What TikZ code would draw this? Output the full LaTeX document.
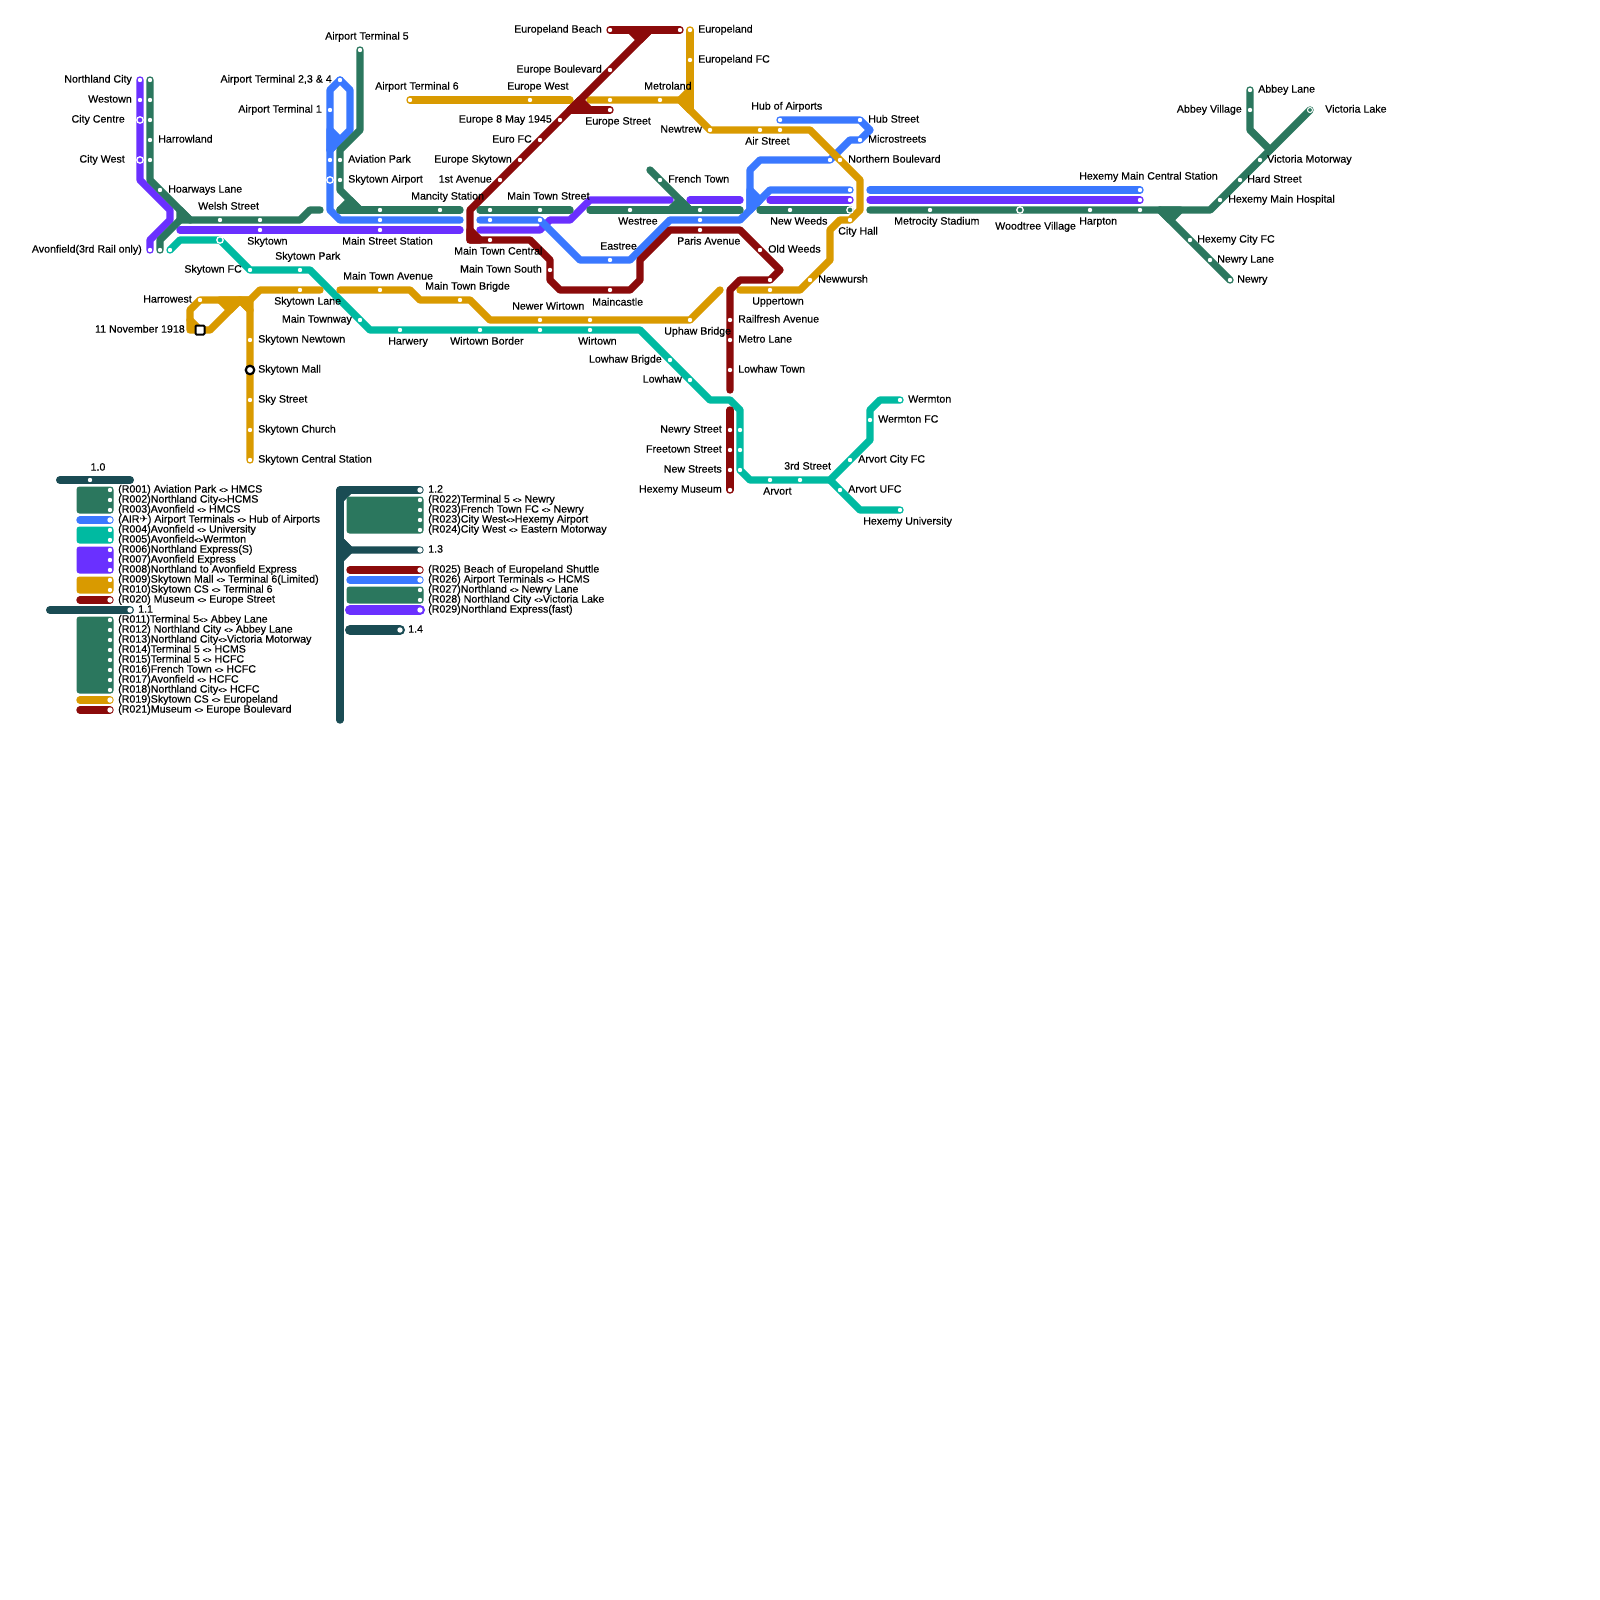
\documentclass[tikz,border=0pt]{standalone}
\usepackage{fontspec}
\setmainfont{Liberation Sans}[RawFeature={embolden=0.35}]
\newfontfamily\symfont{DejaVu Sans}
\usetikzlibrary{backgrounds}
\definecolor{lgreen}{HTML}{2B775E}
\definecolor{lblue}{HTML}{3A78FF}
\definecolor{lpurple}{HTML}{6A30FF}
\definecolor{lgold}{HTML}{D99A00}
\definecolor{lred}{HTML}{8B0A0A}
\definecolor{lteal}{HTML}{00BAA1}
\definecolor{ldark}{HTML}{1A4C54}
\newcommand{\ang}{{\fontsize{7.5}{7.5}\selectfont<>}}
\tikzset{
  route/.style={line width=7.4pt, line cap=round, line join=round},
  rgreen/.style={route, draw=lgreen},
  rblue/.style={route, draw=lblue},
  rpurple/.style={route, draw=lpurple},
  rgold/.style={route, draw=lgold},
  rred/.style={route, draw=lred},
  rteal/.style={route, draw=lteal},
  rdark/.style={route, draw=ldark},
  blockfill/.style={rounded corners=3pt},
  stn/.style={circle, fill=white, inner sep=0pt, minimum size=4.4pt},
  stnend/.style={circle, fill=white, inner sep=0pt, minimum size=5.4pt},
  stnring/.style={circle, draw=white, line width=1.3pt, inner sep=0pt, minimum size=6.4pt},
  stnmall/.style={circle, draw=black, fill=white, line width=2.2pt, inner sep=0pt, minimum size=8.5pt},
  stnsq/.style={rectangle, rounded corners=1pt, draw=black, fill=white, line width=2pt, inner sep=0pt, minimum size=9pt},
  txt/.style={inner sep=0pt, text height=7.2pt, text depth=0pt, font=\fontsize{10.65}{11}\selectfont},
  le/.style={txt, anchor=east},
  lw/.style={txt, anchor=west},
  lgd/.style={txt, anchor=west}
}
\begin{document}
\begin{tikzpicture}[x=1pt,y=-1pt]
  \useasboundingbox (0,0) rectangle (1600,1600);

  % free line ends
  \coordinate (pa) at (180,230);
  \coordinate (pb) at (460,230);
  \coordinate (pc) at (480,230);
  \coordinate (pd) at (670,200);
  \coordinate (pe) at (690,200);
  \coordinate (pf) at (740,200);
  \coordinate (pg) at (770,200);
  \coordinate (ph) at (870,200);
  \coordinate (ba) at (460,220);
  \coordinate (bb) at (480,220);
  \coordinate (bc) at (870,190);
  \coordinate (ga) at (320,210);
  \coordinate (gb) at (340,210);
  \coordinate (gc) at (460,210);
  \coordinate (gd) at (480,210);
  \coordinate (ge) at (570,210);
  \coordinate (gf) at (590,210);
  \coordinate (gg) at (740,210);
  \coordinate (gh) at (650,170);
  \coordinate (gi) at (690,210);
  \coordinate (gj) at (760,210);
  \coordinate (gk) at (870,210);
  \coordinate (ya) at (320,290);
  \coordinate (yb) at (340,290);
  \coordinate (yc) at (720,290);
  \coordinate (yd) at (570,100);
  \coordinate (ye) at (590,100);
  \coordinate (yf) at (740,290);
  \coordinate (ra) at (730,390);
  \coordinate (rb) at (730,410);

  % purple and green, west
  \node[stn] (northlandp) at (140,80) {};
  \node[le] (tnorthland) at (132,79) {Northland City};
  \node[stn] (westownp) at (140,100) {};
  \node[le] (twestown) at (132,99) {Westown};
  \node[stnring, fill=lpurple] (citycentre) at (140,120) {};
  \node[le] (tcitycentre) at (125,119) {City Centre};
  \node[stnring, fill=lpurple] (citywest) at (140,160) {};
  \node[le] (tcitywest) at (125,159) {City West};
  \node[stn] (avonp) at (150,250) {};
  \node[le] (tavon) at (142,249) {Avonfield(3rd Rail only)};
  \node[stn] (northlandg) at (150,80) {};
  \node[stn] (westowng) at (150,100) {};
  \node[stn] (centreg) at (150,120) {};
  \node[stn] (harrowland) at (150,140) {};
  \node[lw] (tharrowland) at (158,139) {Harrowland};
  \node[stn] (westg) at (150,160) {};
  \node[stn] (hoarways) at (160,190) {};
  \node[lw] (thoarways) at (168,189) {Hoarways Lane};
  \node[stn] (welsh) at (220,220) {};
  \node[lw] (twelsh) at (198,206) {Welsh Street};
  \node[stn] (skytowng) at (260,220) {};
  \node[stn] (skytownp) at (260,230) {};
  \node[lw] (tskytown) at (247,241) {Skytown};
  \node[stn] (avong) at (160,250) {};
  \node[stn] (avont) at (170,250) {};

  % airport
  \node[stn] (term234) at (340,80) {};
  \node[le] (tterm234) at (332,79) {Airport Terminal 2,3 \& 4};
  \node[stn] (term1) at (330,110) {};
  \node[le] (tterm1) at (322,109) {Airport Terminal 1};
  \node[stn] (term5) at (360,50) {};
  \node[lw] (tterm5) at (325,36) {Airport Terminal 5};
  \node[stn] (aviationb) at (330,160) {};
  \node[stn] (aviationg) at (340,160) {};
  \node[lw] (taviation) at (348,159) {Aviation Park};
  \node[stnring, fill=lblue] (airportb) at (330,180) {};
  \node[stn] (airportg) at (340,180) {};
  \node[lw] (tairport) at (348,179) {Skytown Airport};
  \node[stn] (mainstg) at (380,210) {};
  \node[stn] (mainstb) at (380,220) {};
  \node[stn] (mainstp) at (380,230) {};
  \node[lw] (tmainst) at (342,241) {Main Street Station};
  \node[stn] (mancity) at (440,210) {};
  \node[lw] (tmancity) at (411,196) {Mancity Station};

  % gold, skytown
  \node[stn] (harrowest) at (200,300) {};
  \node[le] (tharrowest) at (192,299) {Harrowest};
  \node[stnsq] (november) at (200,330) {};
  \node[le] (tnovember) at (185,329) {11 November 1918};
  \node[stn] (skylane) at (300,290) {};
  \node[lw] (tskylane) at (274,301) {Skytown Lane};
  \node[stn] (newtown) at (250,340) {};
  \node[lw] (tnewtown) at (258,339) {Skytown Newtown};
  \node[stnmall] (mall) at (250,370) {};
  \node[lw] (tmall) at (258,369) {Skytown Mall};
  \node[stn] (skyst) at (250,400) {};
  \node[lw] (tskyst) at (258,399) {Sky Street};
  \node[stn] (church) at (250,430) {};
  \node[lw] (tchurch) at (258,429) {Skytown Church};
  \node[stn] (central) at (250,460) {};
  \node[lw] (tcentral) at (258,459) {Skytown Central Station};
  \node[stn] (mtavenue) at (380,290) {};
  \node[lw] (tmtavenue) at (343,276) {Main Town Avenue};
  \node[stn] (mtbrigde) at (460,300) {};
  \node[lw] (tmtbrigde) at (425,286) {Main Town Brigde};
  \node[stn] (newerw) at (540,320) {};
  \node[lw] (tnewerw) at (512,306) {Newer Wirtown};
  \node[stn] (wirtowny) at (590,320) {};
  \node[stn] (uphaw) at (690,320) {};
  \node[lw] (tuphaw) at (664,331) {Uphaw Bridge};

  % gold, north
  \node[stn] (term6) at (410,100) {};
  \node[lw] (tterm6) at (375,86) {Airport Terminal 6};
  \node[stn] (eurwest) at (530,100) {};
  \node[lw] (teurwest) at (507,86) {Europe West};
  \node[stn] (eurgold) at (610,100) {};
  \node[stn] (metroland) at (660,100) {};
  \node[lw] (tmetroland) at (644,86) {Metroland};
  \node[stn] (europeland) at (690,30) {};
  \node[lw] (teuropeland) at (698,29) {Europeland};
  \node[stn] (eurofc) at (690,60) {};
  \node[lw] (teurofc) at (698,59) {Europeland FC};
  \node[stn] (newtrew) at (710,130) {};
  \node[le] (tnewtrew) at (702,129) {Newtrew};
  \node[stn] (airsta) at (760,130) {};
  \node[lw] (tairst) at (745,141) {Air Street};
  \node[stn] (airstb) at (780,130) {};
  \node[stn] (northerny) at (840,160) {};
  \node[lw] (tnorthern) at (848,159) {Northern Boulevard};
  \node[stn] (cityhall) at (850,220) {};
  \node[lw] (tcityhall) at (838,231) {City Hall};
  \node[stn] (newwursh) at (810,280) {};
  \node[lw] (tnewwursh) at (818,279) {Newwursh};
  \node[stn] (uppery) at (770,290) {};
  \node[lw] (tuppertown) at (752,301) {Uppertown};

  % red
  \node[stn] (beach) at (610,30) {};
  \node[le] (tbeach) at (602,29) {Europeland Beach};
  \node[stn] (beachb) at (680,30) {};
  \node[stn] (eurblvd) at (610,70) {};
  \node[le] (teurblvd) at (602,69) {Europe Boulevard};
  \node[stn] (eurstreet) at (610,110) {};
  \node[lw] (teurstreet) at (585,121) {Europe Street};
  \node[stn] (may1945) at (560,120) {};
  \node[le] (tmay1945) at (552,119) {Europe 8 May 1945};
  \node[stn] (eurofcr) at (540,140) {};
  \node[le] (teurofcr) at (532,139) {Euro FC};
  \node[stn] (eurskytown) at (520,160) {};
  \node[le] (teurskytown) at (512,159) {Europe Skytown};
  \node[stn] (firstave) at (500,180) {};
  \node[le] (tfirstave) at (492,179) {1st Avenue};
  \node[stn] (mtcentral) at (490,240) {};
  \node[lw] (tmtcentral) at (454,251) {Main Town Central};
  \node[stn] (mtsouth) at (550,270) {};
  \node[le] (tmtsouth) at (542,269) {Main Town South};
  \node[stn] (maincastle) at (610,290) {};
  \node[lw] (tmaincastle) at (592,302) {Maincastle};
  \node[stn] (paris) at (700,230) {};
  \node[lw] (tparis) at (677,241) {Paris Avenue};
  \node[stn] (oldweeds) at (760,250) {};
  \node[lw] (toldweeds) at (768,249) {Old Weeds};
  \node[stn] (upperr) at (770,280) {};
  \node[stn] (railfresh) at (730,320) {};
  \node[lw] (trailfresh) at (738,319) {Railfresh Avenue};
  \node[stn] (metrolane) at (730,340) {};
  \node[lw] (tmetrolane) at (738,339) {Metro Lane};
  \node[stn] (lowhawtown) at (730,370) {};
  \node[lw] (tlowhawtown) at (738,369) {Lowhaw Town};
  \node[stn] (newryst) at (730,430) {};
  \node[le] (tnewryst) at (722,429) {Newry Street};
  \node[stn] (freetown) at (730,450) {};
  \node[le] (tfreetown) at (722,449) {Freetown Street};
  \node[stn] (newstreets) at (730,470) {};
  \node[le] (tnewstreets) at (722,469) {New Streets};
  \node[stn] (museum) at (730,490) {};
  \node[le] (tmuseum) at (722,489) {Hexemy Museum};

  % centre, blue and green
  \node[stn] (mtstreetg) at (490,210) {};
  \node[stn] (mtstreetb) at (490,220) {};
  \node[stn] (mtstreeth) at (540,210) {};
  \node[stn] (mtstreetc) at (540,220) {};
  \node[lw] (tmtstreet) at (507,196) {Main Town Street};
  \node[stn] (westree) at (630,210) {};
  \node[lw] (twestree) at (618,221) {Westree};
  \node[stn] (eastree) at (610,260) {};
  \node[lw] (teastree) at (600,246) {Eastree};
  \node[stn] (french) at (660,180) {};
  \node[lw] (tfrench) at (668,179) {French Town};
  \node[stn] (parisg) at (700,210) {};
  \node[stn] (parisb) at (700,220) {};
  \node[stn] (hubair) at (780,120) {};
  \node[lw] (thubair) at (751,106) {Hub of Airports};
  \node[stn] (hubst) at (860,120) {};
  \node[lw] (thubst) at (868,119) {Hub Street};
  \node[stn] (micro) at (860,140) {};
  \node[lw] (tmicro) at (868,139) {Microstreets};
  \node[stn] (northernb) at (830,160) {};
  \node[stn] (newweeds) at (790,210) {};
  \node[lw] (tnewweeds) at (770,221) {New Weeds};
  \node[stn] (crossb) at (850,190) {};
  \node[stn] (crossp) at (850,200) {};
  \node[stnring, fill=lgreen] (crossg) at (850,210) {};

  % east
  \node[stn] (metrocity) at (930,210) {};
  \node[lw] (tmetrocity) at (894,221) {Metrocity Stadium};
  \node[stnring, fill=lgreen] (woodtree) at (1020,210) {};
  \node[lw] (twoodtree) at (995,226) {Woodtree Village};
  \node[stn] (harpton) at (1090,210) {};
  \node[lw] (tharpton) at (1079,221) {Harpton};
  \node[stn] (hexg) at (1140,210) {};
  \node[stn] (hexb) at (1140,190) {};
  \node[stn] (hexp) at (1140,200) {};
  \node[lw] (thex) at (1079,176) {Hexemy Main Central Station};
  \node[stn] (hospital) at (1220,200) {};
  \node[lw] (thospital) at (1228,199) {Hexemy Main Hospital};
  \node[stn] (hardst) at (1240,180) {};
  \node[lw] (thardst) at (1247,179) {Hard Street};
  \node[stn] (motorway) at (1260,160) {};
  \node[lw] (tmotorway) at (1267,159) {Victoria Motorway};
  \node[stnring, fill=lgreen, minimum size=5pt, line width=1pt] (vlake) at (1310,110) {};
  \node[lw] (tvlake) at (1325,109) {Victoria Lake};
  \node[stn] (abbeylane) at (1250,90) {};
  \node[lw] (tabbeylane) at (1258,89) {Abbey Lane};
  \node[stn] (abbeyvil) at (1250,110) {};
  \node[le] (tabbeyvil) at (1242,109) {Abbey Village};
  \node[stn] (hexfc) at (1190,240) {};
  \node[lw] (thexfc) at (1197,239) {Hexemy City FC};
  \node[stn] (newrylane) at (1210,260) {};
  \node[lw] (tnewrylane) at (1217,259) {Newry Lane};
  \node[stn] (newry) at (1230,280) {};
  \node[lw] (tnewry) at (1237,279) {Newry};

  % teal
  \node[stnring, fill=lteal] (skyfc1) at (220,240) {};
  \node[stn] (skyfc) at (250,270) {};
  \node[le] (tskyfc) at (242,269) {Skytown FC};
  \node[stn] (skypark) at (300,270) {};
  \node[lw] (tskypark) at (275,256) {Skytown Park};
  \node[stn] (townway) at (360,320) {};
  \node[le] (ttownway) at (352,319) {Main Townway};
  \node[stn] (harwery) at (400,330) {};
  \node[lw] (tharwery) at (388,341) {Harwery};
  \node[stn] (wborder) at (480,330) {};
  \node[lw] (twborder) at (450,341) {Wirtown Border};
  \node[stn] (wmid) at (540,330) {};
  \node[stn] (wirtown) at (590,330) {};
  \node[lw] (twirtown) at (578,341) {Wirtown};
  \node[stn] (lowbrigde) at (670,360) {};
  \node[le] (tlowbrigde) at (662,359) {Lowhaw Brigde};
  \node[stn] (lowhaw) at (690,380) {};
  \node[le] (tlowhaw) at (682,379) {Lowhaw};
  \node[stn] (tnewryst2) at (740,430) {};
  \node[stn] (tfreetown2) at (740,450) {};
  \node[stn] (tnewstr2) at (740,470) {};
  \node[stn] (arvort) at (770,480) {};
  \node[lw] (tarvort) at (763,491) {Arvort};
  \node[stn] (third) at (800,480) {};
  \node[lw] (tthird) at (784,466) {3rd Street};
  \node[stn] (arvcity) at (850,460) {};
  \node[lw] (tarvcity) at (858,459) {Arvort City FC};
  \node[stn] (arvufc) at (840,490) {};
  \node[lw] (tarvufc) at (848,489) {Arvort UFC};
  \node[stn] (wermfc) at (870,420) {};
  \node[lw] (twermfc) at (878,419) {Wermton FC};
  \node[stn] (wermton) at (900,400) {};
  \node[lw] (twermton) at (908,399) {Wermton};
  \node[stn] (hexuni) at (900,510) {};
  \node[lw] (thexuni) at (863,521) {Hexemy University};

  % legend, first column
  \node[stn] (ld10) at (90,480) {};
  \node[txt] (t10) at (98,467) {1.0};
  \node[stn] (r001) at (110,490) {};
  \node[lgd] (tr001) at (118,489) {(R001) Aviation Park \ang{} HMCS};
  \node[stn] (r002) at (110,500) {};
  \node[lgd] (tr002) at (118,499) {(R002)Northland City\ang{}HCMS};
  \node[stn] (r003) at (110,510) {};
  \node[lgd] (tr003) at (118,509) {(R003)Avonfield \ang{} HMCS};
  \node[stnend] (rair) at (110,520) {};
  \node[lgd] (trair) at (118,519) {(AIR{\symfont\fontsize{10}{10}\selectfont ✈}) Airport Terminals \ang{} Hub of Airports};
  \node[stn] (r004) at (110,530) {};
  \node[lgd] (tr004) at (118,529) {(R004)Avonfield \ang{} University};
  \node[stn] (r005) at (110,540) {};
  \node[lgd] (tr005) at (118,539) {(R005)Avonfield\ang{}Wermton};
  \node[stn] (r006) at (110,550) {};
  \node[lgd] (tr006) at (118,549) {(R006)Northland Express(S)};
  \node[stn] (r007) at (110,560) {};
  \node[lgd] (tr007) at (118,559) {(R007)Avonfield Express};
  \node[stn] (r008) at (110,570) {};
  \node[lgd] (tr008) at (118,569) {(R008)Northland to Avonfield Express};
  \node[stn] (r009) at (110,580) {};
  \node[lgd] (tr009) at (118,579) {(R009)Skytown Mall \ang{} Terminal 6(Limited)};
  \node[stn] (r010) at (110,590) {};
  \node[lgd] (tr010) at (118,589) {(R010)Skytown CS \ang{} Terminal 6};
  \node[stnend] (r020) at (110,600) {};
  \node[lgd] (tr020) at (118,599) {(R020) Museum \ang{} Europe Street};
  \node[stnend] (ld11) at (130,610) {};
  \node[lgd] (t11) at (138,609) {1.1};
  \node[stn] (r011) at (110,620) {};
  \node[lgd] (tr011) at (118,619) {(R011)Terminal 5\ang{} Abbey Lane};
  \node[stn] (r012) at (110,630) {};
  \node[lgd] (tr012) at (118,629) {(R012) Northland City \ang{} Abbey Lane};
  \node[stn] (r013) at (110,640) {};
  \node[lgd] (tr013) at (118,639) {(R013)Northland City\ang{}Victoria Motorway};
  \node[stn] (r014) at (110,650) {};
  \node[lgd] (tr014) at (118,649) {(R014)Terminal 5 \ang{} HCMS};
  \node[stn] (r015) at (110,660) {};
  \node[lgd] (tr015) at (118,659) {(R015)Terminal 5 \ang{} HCFC};
  \node[stn] (r016) at (110,670) {};
  \node[lgd] (tr016) at (118,669) {(R016)French Town \ang{} HCFC};
  \node[stn] (r017) at (110,680) {};
  \node[lgd] (tr017) at (118,679) {(R017)Avonfield \ang{} HCFC};
  \node[stn] (r018) at (110,690) {};
  \node[lgd] (tr018) at (118,689) {(R018)Northland City\ang{} HCFC};
  \node[stnend] (r019) at (110,700) {};
  \node[lgd] (tr019) at (118,699) {(R019)Skytown CS \ang{} Europeland};
  \node[stnend] (r021) at (110,710) {};
  \node[lgd] (tr021) at (118,709) {(R021)Museum \ang{} Europe Boulevard};

  % legend, second column
  \node[stnend] (ld12) at (420,490) {};
  \node[lgd] (t12) at (428,489) {1.2};
  \node[stn] (r022) at (420,500) {};
  \node[lgd] (tr022) at (428,499) {(R022)Terminal 5 \ang{} Newry};
  \node[stn] (r023) at (420,510) {};
  \node[lgd] (tr023) at (428,509) {(R023)French Town FC \ang{} Newry};
  \node[stn] (r023b) at (420,520) {};
  \node[lgd] (tr023b) at (428,519) {(R023)City West\ang{}Hexemy Airport};
  \node[stn] (r024) at (420,530) {};
  \node[lgd] (tr024) at (428,529) {(R024)City West \ang{} Eastern Motorway};
  \node[stnend] (ld13) at (420,550) {};
  \node[lgd] (t13) at (428,549) {1.3};
  \node[stnend] (r025) at (420,570) {};
  \node[lgd] (tr025) at (428,569) {(R025) Beach of Europeland Shuttle};
  \node[stnend] (r026) at (420,580) {};
  \node[lgd] (tr026) at (428,579) {(R026) Airport Terminals \ang{} HCMS};
  \node[stn] (r027) at (420,590) {};
  \node[lgd] (tr027) at (428,589) {(R027)Northland \ang{} Newry Lane};
  \node[stn] (r028) at (420,600) {};
  \node[lgd] (tr028) at (428,599) {(R028) Northland City \ang{}Victoria Lake};
  \node[stnend] (r029) at (420,610) {};
  \node[lgd] (tr029) at (428,609) {(R029)Northland Express(fast)};
  \node[stnend] (ld14) at (400,630) {};
  \node[lgd] (t14) at (408,629) {1.4};

  \begin{scope}[on background layer]
    \fill[white] (0,0) rectangle (1600,1600);

    % purple
    \draw[rpurple] (northlandp.center) -- (140,180) -- (170,210) -- (170,220) -- (150,240) -- (avonp.center);
    \draw[rpurple] (pa) -- (pb);
    \draw[rpurple] (pc) -- (540,230) -- (550,220) -- (570,220) -- (590,200) -- (pd);
    \draw[rpurple] (pe) -- (pf);
    \draw[rpurple] (pg) -- (crossp.center);
    \draw[rpurple] (ph) -- (hexp.center);

    % blue
    \draw[rblue] (term234.center) -- (330,90) -- (330,210) -- (340,220) -- (ba);
    \draw[rblue] (term234.center) -- (350,90) -- (350,130) -- (330,150);
    \draw[rblue, fill=lblue] (330,130) -- (340,140) -- (330,150) -- cycle;
    \draw[rblue] (bb) -- (540,220) -- (580,260) -- (630,260) -- (670,220) -- (740,220) -- (770,190) -- (crossb.center);
    \draw[rblue] (hubair.center) -- (860,120) -- (870,130) -- (860,140) -- (850,140) -- (830,160) -- (760,160) -- (750,170) -- (750,210);
    \draw[rblue, fill=lblue] (750,190) -- (760,200) -- (750,210) -- cycle;
    \draw[rblue] (bc) -- (hexb.center);

    % teal
    \draw[rteal] (avont.center) -- (180,240) -- (220,240) -- (250,270) -- (310,270) -- (370,330) -- (640,330) -- (710,400) -- (730,400) -- (740,410) -- (740,470) -- (750,480) -- (830,480) -- (870,440) -- (870,410) -- (880,400) -- (wermton.center);
    \draw[rteal] (830,480) -- (860,510) -- (hexuni.center);

    % gold
    \draw[rgold] (ya) -- (260,290) -- (250,300) -- (200,300) -- (190,310) -- (190,330) -- (210,330) -- (240,300) -- (250,310) -- (central.center);
    \draw[rgold] (190,320) -- (200,330);
    \draw[rgold, fill=lgold] (220,300) -- (230,310) -- (240,300) -- cycle;
    \draw[rgold, fill=lgold] (240,300) -- (250,300) -- (250,310) -- cycle;
    \draw[rgold] (yb) -- (410,290) -- (420,300) -- (470,300) -- (490,320) -- (690,320) -- (yc);
    \draw[rgold] (term6.center) -- (yd);
    \draw[rgold] (ye) -- (680,100) -- (710,130) -- (810,130) -- (860,180) -- (860,210) -- (850,220) -- (840,220) -- (830,230) -- (830,260) -- (800,290) -- (yf);
    \draw[rgold] (europeland.center) -- (690,110);
    \draw[rgold, fill=lgold] (680,100) -- (690,90) -- (690,110) -- cycle;

    % green
    \draw[rgreen] (northlandg.center) -- (150,180) -- (190,220) -- (300,220) -- (310,210) -- (ga);
    \draw[rgreen] (avong.center) -- (160,240) -- (180,220);
    \draw[rgreen, fill=lgreen] (180,210) -- (190,220) -- (180,220) -- cycle;
    \draw[rgreen] (term5.center) -- (360,130) -- (340,150) -- (340,190) -- (360,210);
    \draw[rgreen, fill=lgreen] (gb) -- (350,200) -- (360,210) -- cycle;
    \draw[rgreen] (gb) -- (gc);
    \draw[rgreen] (gd) -- (ge);
    \draw[rgreen] (gf) -- (gg);
    \draw[rgreen] (gh) -- (gi);
    \draw[rgreen, fill=lgreen] (670,210) -- (680,200) -- (690,210) -- cycle;
    \draw[rgreen] (gj) -- (crossg.center);
    \draw[rgreen] (gk) -- (1210,210) -- (vlake.center);
    \draw[rgreen] (1160,210) -- (newry.center);
    \draw[rgreen, fill=lgreen] (1160,210) -- (1180,210) -- (1170,220) -- cycle;
    \draw[rgreen] (abbeylane.center) -- (1250,130) -- (1270,150);

    % red
    \draw[rred] (beach.center) -- (beachb.center);
    \draw[rred] (650,30) -- (470,210) -- (470,240) -- (530,240) -- (550,260) -- (550,280) -- (560,290) -- (630,290) -- (640,280) -- (640,260) -- (670,230) -- (740,230) -- (780,270) -- (770,280) -- (740,280) -- (730,290) -- (ra);
    \draw[rred, fill=lred] (630,30) -- (640,40) -- (650,30) -- cycle;
    \draw[rred, fill=lred] (470,230) -- (480,240) -- (470,240) -- cycle;
    \draw[rred, fill=lred] (570,110) -- (580,100) -- (590,110) -- cycle;
    \draw[rred] (570,110) -- (eurstreet.center);
    \draw[rred] (rb) -- (museum.center);

    % legend
    \draw[rdark, line width=8pt] (60,480) -- (ld10.center) -- (130,480);
    \draw[rdark, line width=8pt] (50,610) -- (ld11.center);
    \draw[rdark] (340,720) -- (340,490) -- (ld12.center);
    \draw[rdark, fill=ldark] (340,490) -- (350,490) -- (340,500) -- cycle;
    \draw[rdark] (340,540) -- (350,550) -- (ld13.center);
    \draw[rdark, fill=ldark] (340,540) -- (350,550) -- (340,560) -- cycle;
    \draw[rdark, line width=10pt] (350,630) -- (ld14.center);
    \fill[lgreen, blockfill] (76.5,486.5) rectangle (113.5,513.5);
    \draw[rblue] (80,520) -- (rair.center);
    \fill[lteal, blockfill] (76.5,526.5) rectangle (113.5,543.5);
    \fill[lpurple, blockfill] (76.5,546.5) rectangle (113.5,573.5);
    \fill[lgold, blockfill] (76.5,576.5) rectangle (113.5,593.5);
    \draw[rred] (80,600) -- (r020.center);
    \fill[lgreen, blockfill] (76.5,616.5) rectangle (113.5,693.5);
    \draw[rgold] (80,700) -- (r019.center);
    \draw[rred] (80,710) -- (r021.center);
    \fill[lgreen, blockfill] (346.5,496.5) rectangle (423.5,533.5);
    \draw[rred] (350,570) -- (r025.center);
    \draw[rblue] (350,580) -- (r026.center);
    \fill[lgreen, blockfill] (346.5,586.5) rectangle (423.5,603.5);
    \draw[rpurple, line width=10pt] (350,610) -- (r029.center);
  \end{scope}
\end{tikzpicture}
\end{document}
